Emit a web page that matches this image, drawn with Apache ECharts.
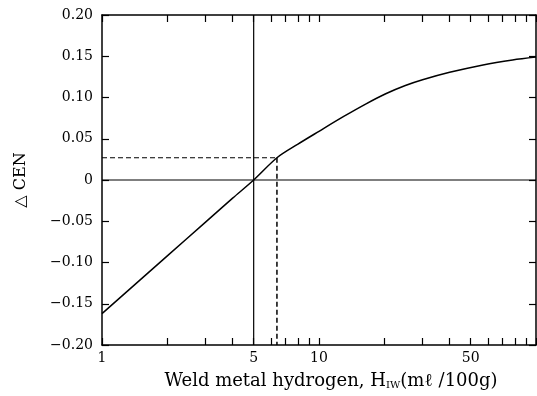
<!DOCTYPE html>
<html><head><meta charset="utf-8">
<script src="https://cdn.jsdelivr.net/npm/echarts@6/dist/echarts.min.js"></script>
<style>html,body{margin:0;padding:0;background:#fff}#c{width:537px;height:396px}</style>
</head><body><div id="c"></div>
<script>
// Data
const hydrogen  = [1, 2, 3, 4, 5, 6.4, 8, 10, 13, 16.4, 20.3, 25, 30, 40, 57, 78, 100];
const deltaCEN  = [-0.162, -0.092, -0.051, -0.022, 0.0, 0.027, 0.0435, 0.059, 0.077, 0.092, 0.1045, 0.1145, 0.1215, 0.1305, 0.1395, 0.1455, 0.149];
const guideX = [6.4, 6.4];           // dashed drop line
const guideY = [0.027, -0.20];
const guideHX = [1, 6.4];            // dashed horizontal
const guideHY = [0.027, 0.027];
const zeroLineX = [1, 100];
const zeroLineY = [0, 0];
const fiveLineX = [5, 5];
const fiveLineY = [-0.20, 0.20];
const xTickValues  = [1,2,3,4,5,6,7,8,9,10,20,30,40,50,60,70,80,90,100];
const xLabelValues = [1, 5, 10, 50];
const yMin = -0.20, yMax = 0.20, yStep = 0.05;

const FONT = '"DejaVu Serif","Liberation Serif",serif';
const zip = (a, b) => a.map((v, i) => [v, b[i]]);
const yFmt = v => Math.abs(v) < 1e-9 ? '0' : (v < 0 ? '\u2212' : '') + Math.abs(v).toFixed(2);

const xBase = {
  type: 'log', logBase: 10, min: 1, max: 100,
  axisLine: { show: true, onZero: false, lineStyle: { color: '#000', width: 1.5 } },
  axisTick: { show: true, inside: true, length: 7, customValues: xTickValues, lineStyle: { color: '#000', width: 1.2 } },
  splitLine: { show: false }, minorTick: { show: false }
};
const yBase = {
  type: 'value', min: yMin, max: yMax, interval: yStep,
  axisLine: { show: true, onZero: false, lineStyle: { color: '#000', width: 1.5 } },
  axisTick: { show: true, inside: true, length: 7, lineStyle: { color: '#000', width: 1.2 } },
  splitLine: { show: false }
};

const chart = echarts.init(document.getElementById('c'), null, { renderer: 'canvas' });
chart.setOption({
  backgroundColor: '#fff',
  animation: false,
  grid: { left: 102, right: 1, top: 15, bottom: 51, containLabel: false },
  xAxis: [
    Object.assign({}, xBase, {
      position: 'bottom',
      axisLabel: { show: true, customValues: xLabelValues, color: '#000', fontFamily: FONT, fontSize: 14, margin: 6 },
      name: 'Weld metal hydrogen, H{sub|IW}(m\u2113 /100g)',
      nameLocation: 'middle', nameGap: 27,
      nameTextStyle: { color: '#000', fontFamily: FONT, fontSize: 18, padding: [0, 0, 0, 24],
        rich: { sub: { fontFamily: FONT, fontSize: 10, color: '#000', padding: [8, 0, 0, 0] } } }
    }),
    Object.assign({}, xBase, { position: 'top', axisLabel: { show: false } })
  ],
  yAxis: [
    Object.assign({}, yBase, {
      position: 'left',
      axisLabel: { show: true, formatter: yFmt, color: '#000', fontFamily: FONT, fontSize: 14, margin: 9 },
      name: '\u25B3 CEN', nameLocation: 'middle', nameGap: 73, nameRotate: 90,
      nameTextStyle: { color: '#000', fontFamily: FONT, fontSize: 16 }
    }),
    Object.assign({}, yBase, { position: 'right', axisLabel: { show: false } })
  ],
  series: [
    { type: 'line', data: zip(hydrogen, deltaCEN), showSymbol: false, smooth: 0.3,
      lineStyle: { color: '#000', width: 1.5 }, z: 5 },
    { type: 'line', data: zip(zeroLineX, zeroLineY), showSymbol: false, lineStyle: { color: '#000', width: 1.2 } },
    { type: 'line', data: zip(fiveLineX, fiveLineY), showSymbol: false, lineStyle: { color: '#000', width: 1.2 } },
    { type: 'line', data: zip(guideHX, guideHY), showSymbol: false, lineStyle: { color: '#000', width: 1.2, type: [5, 3] } },
    { type: 'line', data: zip(guideX, guideY), showSymbol: false, lineStyle: { color: '#000', width: 1.5, type: [5, 3] } }
  ]
});
</script></body></html>
